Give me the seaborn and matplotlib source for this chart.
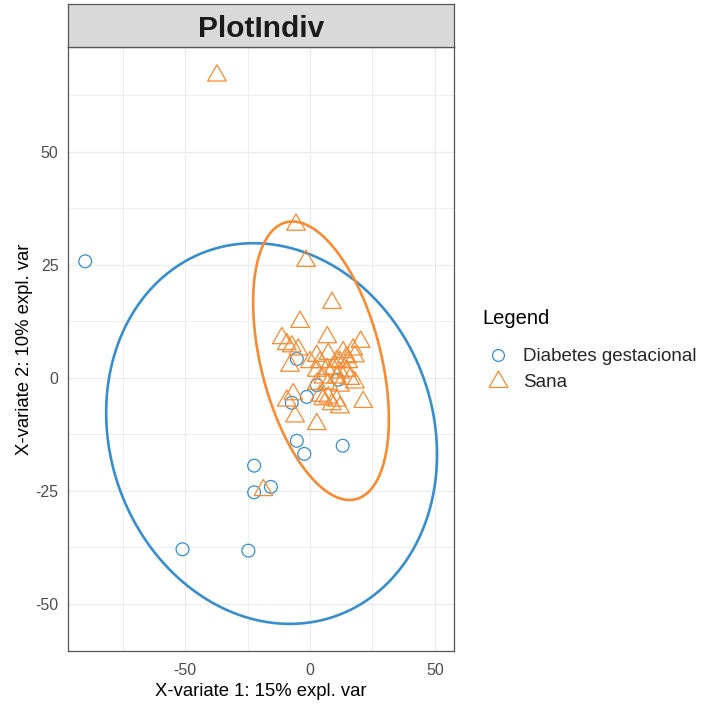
import numpy as np
import pandas as pd
import matplotlib
matplotlib.use("Agg")
import matplotlib.pyplot as plt
import seaborn as sns
from matplotlib.lines import Line2D

# ---------------- data ----------------
group_names = ["Diabetes gestacional", "Sana"]
group_colors = ["#388ECC", "#F68B33"]

dg_x = [-90.1, -22.4, -22.4, -15.7, -51.1, -24.7, -5.3, -2.3, 13.1, -5.3, -7.3, -1.3, 2.7, 11.3]
dg_y = [25.8, -19.4, -25.3, -24.1, -37.9, -38.2, -13.9, -16.8, -15.0, 4.2, -5.5, -4.2, -1.6, -0.4]

sana_x = [-37.3, -5.6, -1.6, 8.8, -4.0, -11.3, 6.9, 20.3, -9.3, -7.3, -4.7, 2.7, 7.3, 13.3,
          17.3, 14.7, 18.0, 0.0, 4.0, 10.7, 12.0, 15.3, -8.0, 2.7, 6.7, 9.3, 12.0, 14.7,
          5.3, 10.7, 16.0, 18.0, 2.7, 7.3, 12.0, -6.7, 4.0, 7.3, 10.7, 21.3, -9.3, 8.7,
          -6.0, 2.7, 12.0, 5.3, -18.7]
sana_y = [67.2, 34.2, 26.2, 16.9, 12.7, 9.1, 9.3, 8.3, 7.8, 7.3, 6.6, 5.2, 5.6, 6.0,
          6.6, 4.9, 5.1, 3.8, 3.8, 4.1, 3.8, 3.8, 3.0, 1.9, 2.3, 2.3, 1.5, 1.9,
          0.4, 0.4, 0.1, -0.7, -1.0, -1.0, -1.4, -3.3, -3.6, -4.0, -4.7, -5.0, -4.7, -5.5,
          -8.2, -9.9, -6.2, -4.4, -24.5]

# confidence ellipse parameters (centre, half-widths, phase cosine) per group
ell_cx = [-15.4, 4.4]
ell_cy = [-12.3, 3.8]
ell_ax = [66.3, 27.2]
ell_ay = [42.1, 30.8]
ell_cosd = [-0.11, -0.42]

x_ticks = [-50, 0, 50]
y_ticks = [-50, -25, 0, 25, 50]
x_minor = [-75, -25, 25]
y_minor = [-37.5, -12.5, 12.5, 37.5, 62.5]
x_lim = (-97.2, 57.7)
y_lim = (-60.4, 73.2)

title_text = "PlotIndiv"
xlabel = "X-variate 1: 15% expl. var"
ylabel = "X-variate 2: 10% expl. var"
legend_title = "Legend"

# ---------------- figure ----------------
sns.set_style("white")
plt.rcParams["font.family"] = ["Liberation Sans", "DejaVu Sans"]

fig = plt.figure(figsize=(7.04, 7.06), dpi=100)
L, R = 67.5 / 704, 454 / 704
B, T = 1 - 651 / 706, 1 - 47 / 706
ax = fig.add_axes([L, B, R - L, T - B])

df = pd.DataFrame({
    "x": dg_x + sana_x,
    "y": dg_y + sana_y,
    "group": [group_names[0]] * len(dg_x) + [group_names[1]] * len(sana_x),
})

# open triangle marker like R's shape 2
tri = [(-1, -0.74), (1, -0.74), (0, 1.0), (-1, -0.74)]
markers = ["o", tri]
sizes = [85, 180]

# ellipses
t = np.linspace(0, 2 * np.pi, 240)
for i, g in enumerate(group_names):
    d = np.arccos(ell_cosd[i])
    ex = ell_cx[i] + ell_ax[i] * np.cos(t)
    ey = ell_cy[i] + ell_ay[i] * np.cos(t - d)
    sns.lineplot(x=ex, y=ey, sort=False, estimator=None, color=group_colors[i],
                 lw=1.9, ax=ax, zorder=3)

# points
for i, g in enumerate(group_names):
    sub = df[df["group"] == g]
    sns.scatterplot(data=sub, x="x", y="y", marker=markers[i], s=sizes[i],
                    facecolors="none", edgecolor=group_colors[i],
                    linewidth=0.9, ax=ax, zorder=4, legend=False)

ax.set_xlim(*x_lim)
ax.set_ylim(*y_lim)
ax.set_xticks(x_ticks)
ax.set_yticks(y_ticks)
ax.set_xticks(x_minor, minor=True)
ax.set_yticks(y_minor, minor=True)
ax.set_xticklabels([str(v) for v in x_ticks])
ax.set_yticklabels([str(v) for v in y_ticks])
ax.grid(True, which="major", color="#EBEBEB", lw=0.9, zorder=0)
ax.grid(True, which="minor", color="#EBEBEB", lw=0.6, zorder=0)
ax.set_axisbelow(True)
ax.tick_params(axis="both", which="major", length=3.5, width=0.8, color="#333333",
               labelsize=11.5, labelcolor="#4D4D4D", pad=3)
ax.tick_params(axis="x", which="major", pad=5)
ax.tick_params(axis="both", which="minor", length=0)
for sp in ax.spines.values():
    sp.set_color("#555555")
    sp.set_linewidth(0.9)
ax.set_xlabel(xlabel, fontsize=13.3, color="black", labelpad=4)
ax.set_ylabel(ylabel, fontsize=13.3, color="black", labelpad=2)

# facet strip
strip = fig.add_axes([L, T, R - L, (47 - 4) / 706])
strip.set_xlim(0, 1)
strip.set_ylim(0, 1)
strip.set_facecolor("#D9D9D9")
strip.set_xticks([])
strip.set_yticks([])
for sp in strip.spines.values():
    sp.set_color("#555555")
    sp.set_linewidth(0.9)
strip.text(0.5, 0.43, title_text, ha="center", va="center", fontsize=21.5,
           fontweight="bold", color="#1A1A1A")

# legend
handles = [
    Line2D([], [], ls="none", marker="o", markersize=8.5, markerfacecolor="none",
           markeredgecolor=group_colors[0], markeredgewidth=0.9),
    Line2D([], [], ls="none", marker=tri, markersize=13.5, markerfacecolor="none",
           markeredgecolor=group_colors[1], markeredgewidth=0.9),
]
fig.text(482 / 704, 1 - 318 / 706, legend_title, ha="left", va="center",
         fontsize=14.5, color="black")
leg = fig.legend(handles, group_names, loc="center left",
                 bbox_to_anchor=(472 / 704, 1 - 369.5 / 706), frameon=False,
                 fontsize=13.5, handletextpad=0.6, labelspacing=0.45,
                 borderpad=0.2, handlelength=1.4)

fig.savefig("out.png", dpi=100)
